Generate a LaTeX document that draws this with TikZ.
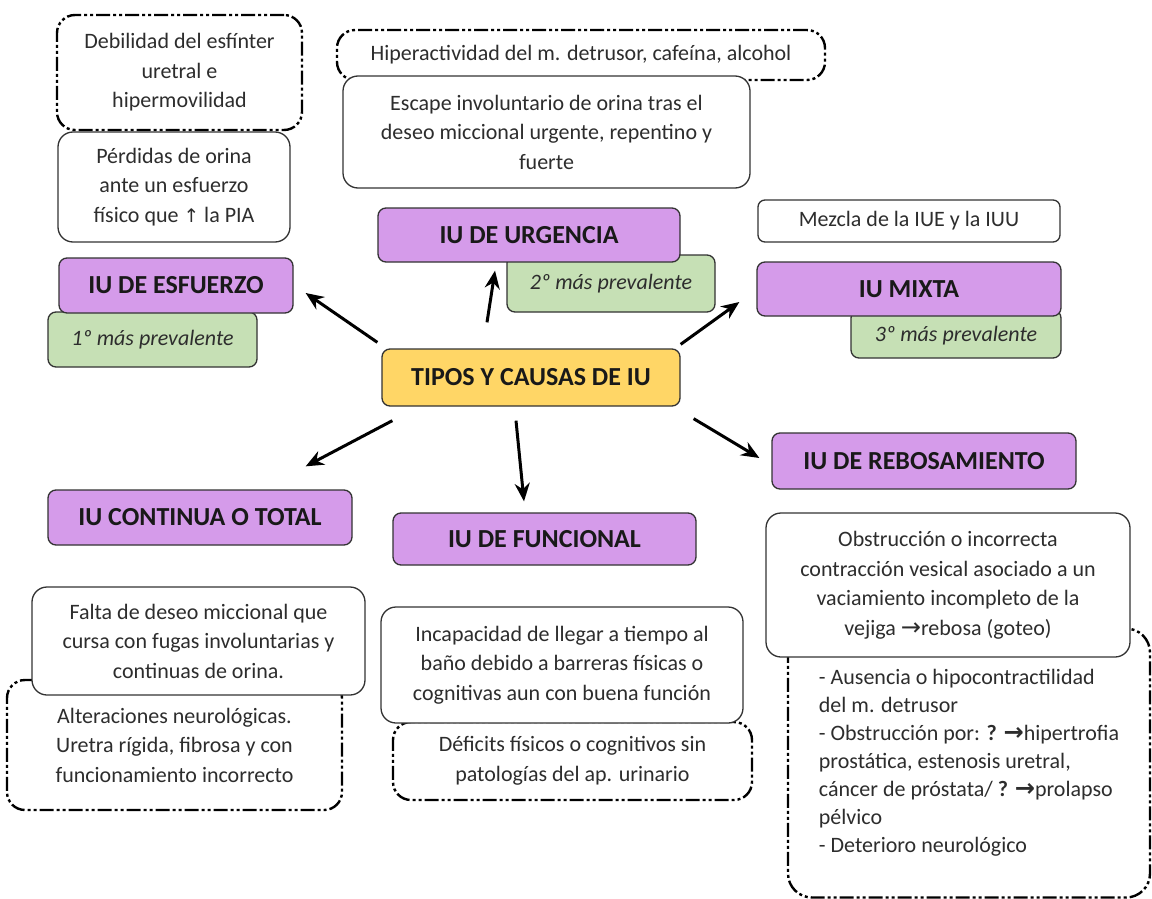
\documentclass[tikz,border=0pt]{standalone}
\usepackage{fontspec}
\setmainfont{Carlito}
\newfontfamily\flecha[Scale=1.1]{DejaVu Sans}
\usepackage{tikz}
\usetikzlibrary{arrows.meta}
\usetikzlibrary{positioning}

\definecolor{lila}{RGB}{213,155,234}
\definecolor{verde}{RGB}{198,224,181}
\definecolor{amarillo}{RGB}{255,214,102}
\definecolor{tinta}{RGB}{45,45,45}

\newcommand{\txt}{\fontsize{22}{29.5}\selectfont}

\begin{document}
\begin{tikzpicture}[x=1pt,y=-1pt,line join=round,>={Stealth[length=18pt,width=15pt]},
  base node/.style={rectangle,inner sep=0pt,align=center,text=tinta},
  tipo node/.style={base node,rounded corners=8pt,draw=black!80,line width=1.3pt,fill=lila,
    font=\fontsize{26}{30}\selectfont\bfseries,text=black!90},
  centro node/.style={tipo node,fill=amarillo},
  nota node/.style={base node,rounded corners=8pt,draw=black!80,line width=1.3pt,fill=verde,
    font=\fontsize{22}{24}\selectfont\itshape},
  texto node/.style={base node,rounded corners=15pt,draw=black!80,line width=1.3pt,fill=white,font=\txt},
  causa node/.style={base node,rounded corners=18pt,draw=black,line width=2.4pt,
    dash pattern=on 14pt off 3pt on 3pt off 3pt on 3pt off 3pt,font=\txt},
  flecha/.style={->,line width=3pt}]

  \path[use as bounding box,fill=white] (0,0) rectangle (1152,899);

  % esfuerzo
  \node[causa node,minimum width=245pt,minimum height=115pt] (debilidad) at (179.5,72.5)
    {Debilidad del esfínter\\uretral e\\hipermovilidad};
  \node[texto node,minimum width=232pt,minimum height=110pt] (perdidas) at (174,187)
    {Pérdidas de orina\\ante un esfuerzo\\físico que {\flecha\fontsize{17}{17}\selectfont ↑} la PIA};
  \node[nota node,minimum width=209pt,minimum height=55pt] (prev1) at (152.5,339.5) {1º más prevalente};
  \node[tipo node,minimum width=234pt,minimum height=55pt] (esfuerzo) at (176,285.5) {IU DE ESFUERZO};

  % urgencia
  \node[causa node,minimum width=488pt,minimum height=50pt] (hiper) at (581,55)
    {Hiperactividad del m. detrusor, cafeína, alcohol};
  \node[texto node,minimum width=407pt,minimum height=112pt] (escape) at (546.5,132)
    {Escape involuntario de orina tras el\\deseo miccional urgente, repentino y\\fuerte};
  \node[nota node,minimum width=208pt,minimum height=57pt] (prev2) at (611,283.5) {2º más prevalente};
  \node[tipo node,minimum width=302pt,minimum height=54pt] (urgencia) at (529,235) {IU DE URGENCIA};

  % mixta
  \node[texto node,rounded corners=7pt,minimum width=302pt,minimum height=42pt] (mezcla) at (909,221)
    {Mezcla de la IUE y la IUU};
  \node[nota node,minimum width=210pt,minimum height=48pt,text depth=-8pt] (prev3) at (956,334) {3º más prevalente};
  \node[tipo node,minimum width=304pt,minimum height=54pt] (mixta) at (909,289) {IU MIXTA};

  % centro
  \node[centro node,minimum width=298pt,minimum height=57pt] (tipos) at (531,377.5) {TIPOS Y CAUSAS DE IU};

  % continua
  \node[tipo node,minimum width=304pt,minimum height=55pt] (continua) at (200,517.5) {IU CONTINUA O TOTAL};
  \node[causa node,minimum width=335pt,minimum height=130pt] (alteraciones) at (174.5,745)
    {Alteraciones neurológicas.\\Uretra rígida, fibrosa y con\\funcionamiento incorrecto};
  \node[texto node,minimum width=333pt,minimum height=108pt] (falta) at (198.5,641)
    {Falta de deseo miccional que\\cursa con fugas involuntarias y\\continuas de orina.};

  % funcional
  \node[tipo node,minimum width=303pt,minimum height=52pt] (funcional) at (544.5,539) {IU DE FUNCIONAL};
  \node[causa node,minimum width=359pt,minimum height=78pt] (deficits) at (572.5,761)
    {Déficits físicos o cognitivos sin\\patologías del ap. urinario};
  \node[texto node,minimum width=362pt,minimum height=116pt] (incapacidad) at (562,665)
    {Incapacidad de llegar a tiempo al\\baño debido a barreras físicas o\\cognitivas aun con buena función};

  % rebosamiento
  \node[tipo node,minimum width=304pt,minimum height=56pt] (rebosamiento) at (924,461) {IU DE REBOSAMIENTO};
  \node[causa node,rounded corners=24pt,minimum width=362pt,minimum height=269pt,align=left,
    font=\fontsize{22}{28}\selectfont] (causas) at (969,763)
    {- Ausencia o hipocontractilidad\\del m. detrusor\\- Obstrucción por: \textbf{?} {\flecha\bfseries →}hipertrofia\\
     prostática, estenosis uretral,\\cáncer de próstata/ \textbf{?} {\flecha\bfseries →}prolapso\\pélvico\\- Deterioro neurológico};
  \node[texto node,minimum width=364pt,minimum height=144pt] (obstruccion) at (948,585)
    {Obstrucción o incorrecta\\contracción vesical asociado a un\\vaciamiento incompleto de la\\vejiga {\flecha →}rebosa (goteo)};

  % flechas
  \draw[flecha] ([shift={(-4,-6)}]tipos.north west) -- ([shift={(12,7.5)}]esfuerzo.east);
  \draw[flecha] ([shift={(-44,-26)}]tipos.north) -- ([shift={(-34,8)}]urgencia.south);
  \draw[flecha] ([shift={(0,-4)}]tipos.north east) -- ([shift={(-17,13)}]mixta.west);
  \draw[flecha] ([shift={(11,14)}]tipos.south west) -- ([shift={(-47,-23)}]continua.north east);
  \draw[flecha] ([shift={(-15,14)}]tipos.south) -- ([shift={(-20.5,-11)}]funcional.north);
  \draw[flecha] ([shift={(13,12)}]tipos.south east) -- ([shift={(-12,-3)}]rebosamiento.west);
\end{tikzpicture}
\end{document}
